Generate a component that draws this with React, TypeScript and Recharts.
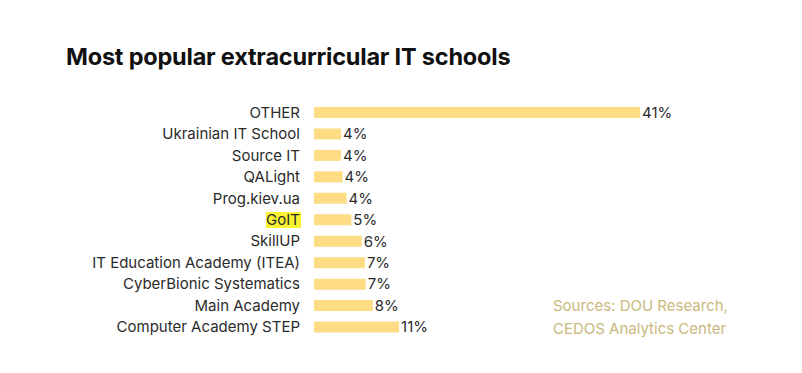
import { BarChart, Bar, XAxis, YAxis, LabelList } from 'recharts'

const schools = [
  'OTHER',
  'Ukrainian IT School',
  'Source IT',
  'QALight',
  'Prog.kiev.ua',
  'GoIT',
  'SkillUP',
  'IT Education Academy (ITEA)',
  'CyberBionic Systematics',
  'Main Academy',
  'Computer Academy STEP',
]
const shares = [41, 3.4, 3.4, 3.6, 4.1, 4.7, 6.0, 6.4, 6.5, 7.4, 10.7]
const shareLabels = ['41%', '4%', '4%', '4%', '4%', '5%', '6%', '7%', '7%', '8%', '11%']
const highlighted = 'GoIT'

const data = schools.map((name, i) => ({ name, value: shares[i], label: shareLabels[i] }))

const FONT = "Inter, 'Noto Sans', sans-serif"

function SchoolTick(props: any) {
  const { x, y, payload } = props
  const isHi = payload.value === highlighted
  const w = isHi ? 35 : 0
  return (
    <g>
      {isHi && <rect x={x - w + 1} y={y - 8} width={w} height={16} fill="#f8f230" />}
      <text x={x} y={y} dy={5} textAnchor="end" fill="#2b2b2b" fontSize={15} fontFamily={FONT}>
        {payload.value}
      </text>
    </g>
  )
}

export default function App() {
  return (
    <div style={{ position: 'absolute', left: 0, top: 0, width: 802, height: 373, background: '#fff', fontFamily: FONT }}>
      <div style={{ position: 'absolute', left: 66, top: 42, fontSize: 23.5, fontWeight: 700, color: '#111', letterSpacing: -0.2 }}>
        Most popular extracurricular IT schools
      </div>
      <BarChart
        width={802}
        height={373}
        data={data}
        layout="vertical"
        margin={{ top: 102, right: 162, bottom: 35, left: 0 }}
      >
        <XAxis type="number" domain={[0, 41]} hide />
        <YAxis
          type="category"
          dataKey="name"
          width={314}
          tickLine={false}
          axisLine={false}
          tickSize={0}
          tickMargin={14}
          interval={0}
          tick={<SchoolTick />}
        />
        <Bar dataKey="value" fill="#fddc84" barSize={11} isAnimationActive={false}>
          <LabelList dataKey="label" position="right" offset={2} fill="#2b2b2b" fontSize={15} fontFamily={FONT} />
        </Bar>
      </BarChart>
      <div style={{ position: 'absolute', left: 553, top: 294, fontSize: 15, lineHeight: '23px', color: '#c9b97c' }}>
        Sources: DOU Research,
        <br />
        CEDOS Analytics Center
      </div>
    </div>
  )
}
